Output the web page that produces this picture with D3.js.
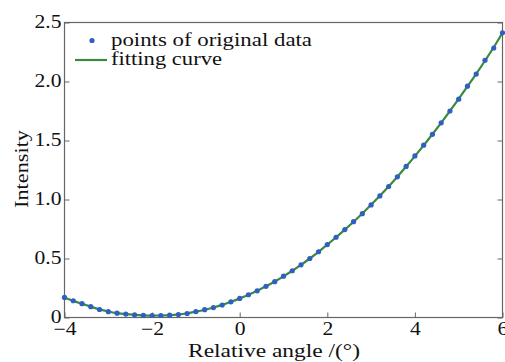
<!DOCTYPE html>
<html><head><meta charset="utf-8">
<script src="https://cdn.jsdelivr.net/npm/d3@7"></script>
<style>html,body{margin:0;padding:0;background:#fff;overflow:hidden}</style>
</head><body>
<svg id="chart" width="505" height="362"></svg>
<script>
const angles = [-4.0,-3.8,-3.6,-3.4,-3.2,-3.0,-2.8,-2.6,-2.4,-2.2,-2.0,-1.8,-1.6,-1.4,-1.2,-1.0,-0.8,-0.6,-0.4,-0.2,0.0,0.2,0.4,0.6,0.8,1.0,1.2,1.4,1.6,1.8,2.0,2.2,2.4,2.6,2.8,3.0,3.2,3.4,3.6,3.8,4.0,4.2,4.4,4.6,4.8,5.0,5.2,5.4,5.6,5.8,6.0];
const intensity = [0.170,0.142,0.117,0.092,0.068,0.049,0.037,0.029,0.023,0.019,0.017,0.017,0.020,0.025,0.034,0.050,0.066,0.084,0.106,0.133,0.162,0.193,0.226,0.264,0.304,0.350,0.396,0.446,0.500,0.557,0.618,0.680,0.745,0.812,0.880,0.954,1.030,1.110,1.192,1.280,1.369,1.460,1.552,1.650,1.750,1.850,1.960,2.063,2.180,2.284,2.413];
const fitCurve = [0.168,0.141,0.116,0.092,0.069,0.051,0.037,0.028,0.022,0.018,0.016,0.017,0.020,0.026,0.036,0.050,0.066,0.085,0.107,0.133,0.162,0.193,0.227,0.264,0.305,0.349,0.396,0.446,0.500,0.557,0.617,0.680,0.745,0.812,0.882,0.955,1.031,1.110,1.193,1.279,1.368,1.459,1.553,1.650,1.750,1.852,1.958,2.065,2.176,2.290,2.413];
const xTicks = [-4,-2,0,2,4,6];
const yTicks = [0,0.5,1.0,1.5,2.0,2.5];
const yTickLabels = ["0","0.5","1.0","1.5","2.0","2.5"];
const legendLabels = ["points of original data","fitting curve"];
const xTitle = "Relative angle /(°)";
const yTitle = "Intensity";

const mL = 64.5, mR = 502.5, mT = 22.5, mB = 317.5;
const svg = d3.select("#chart");
const x = d3.scaleLinear().domain([-4,6]).range([mL,mR]);
const y = d3.scaleLinear().domain([0,2.5]).range([mB,mT]);
const font = "'Liberation Serif', 'Times New Roman', serif";
const fs = 18;
const axisColor = "#666";
const textColor = "#111";

// widen glyphs to mimic the reference's wide serif face
function stretch(sel, factor) {
  sel.each(function() {
    const w = this.getComputedTextLength();
    if (w > 0) d3.select(this).attr("textLength", w * factor).attr("lengthAdjust", "spacingAndGlyphs");
  });
}

// frame
svg.append("rect").attr("x",mL).attr("y",mT).attr("width",mR-mL).attr("height",mB-mT)
  .attr("fill","none").attr("stroke",axisColor).attr("stroke-width",1.2);

// bottom axis (inward ticks)
const xAxis = d3.axisBottom(x).tickValues(xTicks).tickSizeInner(-5).tickSizeOuter(0)
  .tickFormat(d => d < 0 ? "\u2212" + Math.abs(d) : String(d)).tickPadding(5);
const gx = svg.append("g").attr("transform",`translate(0,${mB})`).call(xAxis);
gx.select(".domain").remove();
gx.selectAll("line").attr("stroke",axisColor);
gx.selectAll("text").attr("font-family",font).attr("font-size",fs).attr("fill",textColor).attr("dy","0.72em").call(stretch, 1.2);

// left axis
const yAxis = d3.axisLeft(y).tickValues(yTicks).tickSizeInner(-5).tickSizeOuter(0)
  .tickFormat((d,i) => yTickLabels[i]).tickPadding(3);
const gy = svg.append("g").attr("transform",`translate(${mL},0)`).call(yAxis);
gy.select(".domain").remove();
gy.selectAll("line").attr("stroke",axisColor);
gy.selectAll("text").attr("font-family",font).attr("font-size",fs).attr("fill",textColor).attr("dy","0.3em").call(stretch, 1.2);

// right axis ticks (no labels)
const yAxisR = d3.axisRight(y).tickValues(yTicks).tickSizeInner(-5).tickSizeOuter(0).tickFormat("");
const gyr = svg.append("g").attr("transform",`translate(${mR},0)`).call(yAxisR);
gyr.select(".domain").remove();
gyr.selectAll("line").attr("stroke",axisColor);

// titles
svg.append("text").attr("x",274).attr("y",357).attr("text-anchor","middle")
  .attr("font-family",font).attr("font-size",fs).attr("fill",textColor).text(xTitle)
  .attr("textLength",172).attr("lengthAdjust","spacingAndGlyphs");
svg.append("text").attr("transform",`translate(28,169) rotate(-90)`).attr("text-anchor","middle")
  .attr("font-family",font).attr("font-size",fs).attr("fill",textColor).text(yTitle)
  .attr("textLength",78).attr("lengthAdjust","spacingAndGlyphs");

// fitting curve
const fitData = angles.map((a,i)=>({a, v: fitCurve[i]}));
svg.append("path").datum(fitData)
  .attr("d", d3.line().x(d=>x(d.a)).y(d=>y(d.v)).curve(d3.curveMonotoneX))
  .attr("fill","none").attr("stroke","#3a8a3c").attr("stroke-width",2.2);

// points
svg.append("g").selectAll("circle").data(angles.map((a,i)=>({a, v: intensity[i]})))
  .join("circle").attr("cx",d=>x(d.a)).attr("cy",d=>y(d.v)).attr("r",2.6).attr("fill","#2f5fc4");

// legend
const lg = svg.append("g");
lg.append("circle").attr("cx",92).attr("cy",40.5).attr("r",2.6).attr("fill","#2f5fc4");
lg.append("line").attr("x1",75).attr("x2",107).attr("y1",60).attr("y2",60).attr("stroke","#3a8a3c").attr("stroke-width",2.2);
lg.append("text").attr("x",111).attr("y",45.5).attr("font-family",font).attr("font-size",fs).attr("fill",textColor).text(legendLabels[0])
  .attr("textLength",201).attr("lengthAdjust","spacingAndGlyphs");
lg.append("text").attr("x",111).attr("y",65).attr("font-family",font).attr("font-size",fs).attr("fill",textColor).text(legendLabels[1])
  .attr("textLength",111).attr("lengthAdjust","spacingAndGlyphs");
</script>
</body></html>
